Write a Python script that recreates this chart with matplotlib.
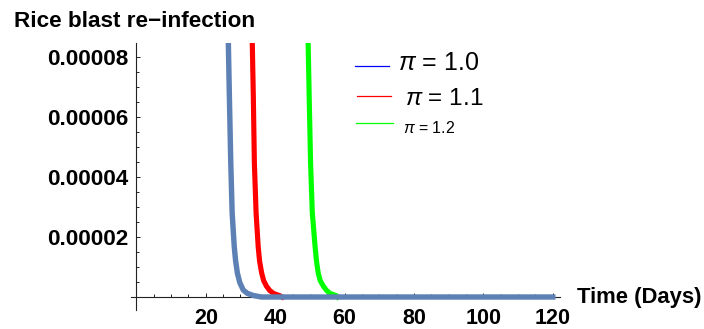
import matplotlib
matplotlib.use("Agg")
import matplotlib.pyplot as plt
from matplotlib.lines import Line2D
from matplotlib.ticker import FixedLocator, MultipleLocator

plt.rcParams["font.family"] = ["Liberation Sans", "DejaVu Sans"]
plt.rcParams["mathtext.fontset"] = "custom"
plt.rcParams["mathtext.rm"] = "Liberation Sans"
plt.rcParams["mathtext.it"] = "Liberation Sans:italic"

# curves (time in days, re-infection level)
t_10 = [26.0, 26.5, 26.8, 27.2, 27.6, 28.2, 28.6, 29.1, 29.8, 30.8, 32.0, 33.7, 36.0, 120.0]
y_10 = [9.6e-5, 8.46e-5, 6.68e-5, 4.47e-5, 2.8e-5, 1.68e-5, 1.2e-5, 8.0e-6, 4.8e-6, 2.3e-6, 1.2e-6, 0.5e-6, 0.0, 0.0]

t_11 = [33.2, 33.4, 33.7, 34.0, 34.5, 35.1, 35.5, 36.1, 36.7, 37.5, 38.4, 39.5, 41.4, 42.0]
y_11 = [9.6e-5, 8.46e-5, 6.68e-5, 4.47e-5, 2.8e-5, 1.68e-5, 1.2e-5, 8.0e-6, 5.4e-6, 3.6e-6, 2.2e-6, 1.2e-6, 0.4e-6, 0.0]

t_12 = [49.3, 49.5, 49.8, 50.2, 50.7, 51.5, 51.9, 52.4, 53.0, 53.9, 54.8, 55.8, 57.7, 58.0]
y_12 = [9.6e-5, 8.46e-5, 6.68e-5, 4.47e-5, 2.8e-5, 1.68e-5, 1.2e-5, 8.0e-6, 5.4e-6, 3.6e-6, 2.2e-6, 1.2e-6, 0.4e-6, 0.0]

x_ticks = [20, 40, 60, 80, 100, 120]
y_ticks = [2e-5, 4e-5, 6e-5, 8e-5]
y_tick_labels = ["0.00002", "0.00004", "0.00006", "0.00008"]

legend_labels = [r"$\pi$ = 1.0", r"$\pi$ = 1.1", r"$\pi$ = 1.2"]
legend_colors = ["#0000FF", "#FF0000", "#00FF00"]

W, H = 704, 329
fig = plt.figure(figsize=(W / 100, H / 100), dpi=100)
ax = fig.add_axes([130.5 / W, 1 - 309.9 / H, 429.2 / W, 267.0 / H])

ax.plot(t_11, y_11, color="#FF0000", lw=3.7, zorder=3)
ax.plot(t_12, y_12, color="#00FF00", lw=3.7, zorder=3)
ax.plot(t_10, y_10, color="#5E81B5", lw=3.9, zorder=4)

ax.set_xlim(-1.7, 122)
ax.set_ylim(-4.3e-6, 8.47e-5)

for s in ["top", "right"]:
    ax.spines[s].set_visible(False)
ax.spines["left"].set_position(("data", 0))
ax.spines["bottom"].set_position(("data", 0))
for s in ["left", "bottom"]:
    ax.spines[s].set_color("#222222")
    ax.spines[s].set_linewidth(0.8)
    ax.spines[s].set_zorder(2)

ax.xaxis.set_major_locator(FixedLocator(x_ticks))
ax.xaxis.set_minor_locator(MultipleLocator(5))
ax.set_xticklabels([str(v) for v in x_ticks])
ax.yaxis.set_major_locator(FixedLocator(y_ticks))
ax.yaxis.set_minor_locator(MultipleLocator(5e-6))
ax.set_yticklabels(y_tick_labels)

ax.tick_params(which="both", direction="in", color="#222222", width=0.7)
ax.tick_params(which="major", length=3.2)
ax.tick_params(which="minor", length=2.2)
ax.tick_params(axis="x", which="major", pad=8, labelsize=15.5)
ax.tick_params(axis="y", which="major", pad=5.5, labelsize=16.2)
for lab in ax.get_xticklabels() + ax.get_yticklabels():
    lab.set_fontweight("bold")

fig.text(14 / W, 1 - 27 / H, "Rice blast re\u2212infection", fontsize=16.2,
         fontweight="bold", va="baseline", ha="left")
fig.text(577 / W, 1 - 303 / H, "Time (Days)", fontsize=15.8,
         fontweight="bold", va="baseline", ha="left")

# legend drawn by hand: each entry has its own size
leg_line_y = [66, 96, 123]
leg_line_x = [(355, 389), (357, 391), (356, 393)]
leg_text_x = [398, 405, 403]
leg_text_base = [70, 105, 133]
leg_sizes = [18, 17.5, 11.5]
for i in range(3):
    x0, x1 = leg_line_x[i]
    fig.add_artist(Line2D([x0 / W, x1 / W], [1 - leg_line_y[i] / H] * 2,
                          color=legend_colors[i], lw=0.9))
    fig.text(leg_text_x[i] / W, 1 - leg_text_base[i] / H, legend_labels[i],
             fontsize=leg_sizes[i], va="baseline", ha="left")

fig.savefig("out.png", dpi=100)
